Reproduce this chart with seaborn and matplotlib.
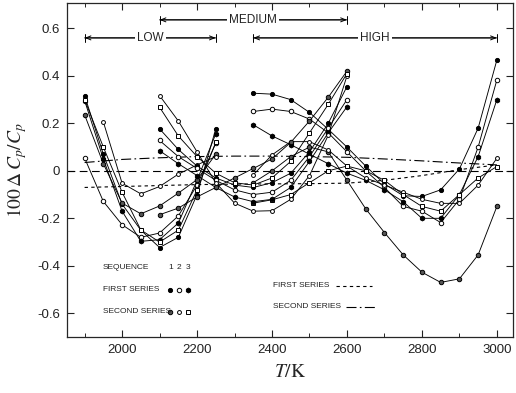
import numpy as np
import pandas as pd
import matplotlib
matplotlib.use("Agg")
import matplotlib.pyplot as plt
from matplotlib.ticker import MultipleLocator
import seaborn as sns

# Temperature grids of the three runs (K)
T_low = [1900, 1950, 2000, 2050, 2100, 2150, 2200, 2250]
T_med = [2100, 2150, 2200, 2250, 2300, 2350, 2400, 2450, 2500, 2550, 2600]
T_high = [2350, 2400, 2450, 2500, 2550, 2600, 2650, 2700, 2750, 2800,
          2850, 2900, 2950, 3000]

# LOW range deviations, 100*dCp/Cp
low_first_1 = [0.317, 0.07, -0.14, -0.25, -0.323, -0.28, -0.10, 0.177]
low_first_2 = [0.054, -0.129, -0.227, -0.28, -0.262, -0.19, -0.06, 0.117]
low_first_3 = [0.296, 0.05, -0.17, -0.297, -0.29, -0.22, -0.04, 0.156]
low_second_1 = [0.236, 0.03, -0.136, -0.181, -0.148, -0.094, -0.037, 0.07]
low_second_2 = [np.nan, 0.206, -0.052, -0.097, -0.066, -0.014, 0.025, 0.06]
low_second_3 = [0.30, 0.10, -0.09, -0.249, -0.30, -0.25, -0.08, 0.12]

# MEDIUM range deviations
med_first_1 = [0.177, 0.09, 0.02, -0.03, -0.06, -0.07, -0.05, -0.01, 0.08, 0.20, 0.355]
med_first_2 = [0.128, 0.06, 0.01, -0.04, -0.08, -0.10, -0.09, -0.04, 0.06, 0.18, 0.30]
med_first_3 = [0.085, 0.03, -0.02, -0.07, -0.11, -0.13, -0.12, -0.07, 0.04, 0.16, 0.27]
med_second_1 = [-0.185, -0.157, -0.11, -0.07, -0.03, 0.01, 0.05, 0.12, 0.21, 0.31, 0.42]
med_second_2 = [0.317, 0.21, 0.08, -0.05, -0.136, -0.17, -0.168, -0.12, -0.02, 0.15, 0.40]
med_second_3 = [0.268, 0.147, 0.06, -0.01, -0.05, -0.06, -0.03, 0.04, 0.16, 0.28, 0.41]

# HIGH range deviations
high_first_1 = [0.327, 0.323, 0.30, 0.246, 0.175, 0.10, 0.02, -0.055, -0.105,
                -0.108, -0.08, 0.008, 0.18, 0.467]
high_first_2 = [0.25, 0.26, 0.25, 0.218, 0.16, 0.08, 0.0, -0.07, -0.15,
                -0.17, -0.218, -0.12, 0.10, 0.383]
high_first_3 = [0.194, 0.147, 0.11, 0.07, 0.03, -0.01, -0.04, -0.08, -0.13,
                -0.20, -0.20, -0.10, 0.06, 0.30]
high_second_1 = [-0.05, 0.0, 0.06, 0.10, 0.08, -0.04, -0.16, -0.26, -0.354,
                 -0.427, -0.47, -0.455, -0.354, -0.15]
high_second_2 = [-0.017, 0.067, 0.123, 0.123, 0.088, 0.02, -0.03, -0.06, -0.09,
                 -0.12, -0.137, -0.137, -0.06, 0.053]
high_second_3 = [-0.136, -0.122, -0.10, -0.05, 0.0, 0.02, 0.0, -0.04, -0.10,
                 -0.15, -0.17, -0.10, -0.03, 0.018]

# Smoothed fits of the two series
T_fit = [1900, 2000, 2100, 2200, 2300, 2400, 2500, 2600, 2700, 2800, 2900, 3000]
fit_first = [-0.07, -0.066, -0.062, -0.058, -0.056, -0.055, -0.054, -0.052,
             -0.04, -0.02, 0.005, 0.025]
fit_second = [0.035, 0.048, 0.055, 0.06, 0.062, 0.062, 0.06, 0.057, 0.05,
              0.042, 0.033, 0.025]

# Range brackets (K)
ranges = {"LOW": (1900, 2250), "MEDIUM": (2100, 2600), "HIGH": (2350, 3000)}

curves = [
    ("low", "first", 1, T_low, low_first_1), ("low", "first", 2, T_low, low_first_2),
    ("low", "first", 3, T_low, low_first_3), ("low", "second", 1, T_low, low_second_1),
    ("low", "second", 2, T_low, low_second_2), ("low", "second", 3, T_low, low_second_3),
    ("medium", "first", 1, T_med, med_first_1), ("medium", "first", 2, T_med, med_first_2),
    ("medium", "first", 3, T_med, med_first_3), ("medium", "second", 1, T_med, med_second_1),
    ("medium", "second", 2, T_med, med_second_2), ("medium", "second", 3, T_med, med_second_3),
    ("high", "first", 1, T_high, high_first_1), ("high", "first", 2, T_high, high_first_2),
    ("high", "first", 3, T_high, high_first_3), ("high", "second", 1, T_high, high_second_1),
    ("high", "second", 2, T_high, high_second_2), ("high", "second", 3, T_high, high_second_3),
]
rows = []
for rng, ser, seq, T, vals in curves:
    for t, v in zip(T, vals):
        rows.append({"range": rng, "series": ser, "sequence": seq, "T": t, "dev": v})
df = pd.DataFrame(rows).dropna()

markers = {
    ("first", 1): dict(marker="o", markerfacecolor="black", markersize=3.0),
    ("first", 2): dict(marker="o", markerfacecolor="white", markersize=3.2),
    ("first", 3): dict(marker="h", markerfacecolor="black", markersize=3.5),
    ("second", 1): dict(marker="o", markerfacecolor="#555555", markersize=3.2),
    ("second", 2): dict(marker="o", markerfacecolor="white", markersize=2.8),
    ("second", 3): dict(marker="s", markerfacecolor="white", markersize=2.8),
}

sns.set_theme(style="ticks")
plt.rcParams.update({
    "font.family": ["Liberation Sans", "DejaVu Sans"],
    "mathtext.fontset": "stix",
    "xtick.direction": "in", "ytick.direction": "in",
    "xtick.top": True, "ytick.right": True,
    "axes.linewidth": 0.9,
    "xtick.major.size": 5, "ytick.major.size": 5,
    "xtick.minor.size": 3, "xtick.major.width": 0.8, "ytick.major.width": 0.8,
})

fig = plt.figure(figsize=(5.16, 3.93), dpi=100)
ax = fig.add_axes([67 / 516, 1 - 337 / 393, 446 / 516, 334 / 393])

# reference zero line and the two smoothed fits
ax.axhline(0, color="black", lw=0.8, ls=(0, (7, 4)), zorder=1)
sns.lineplot(x=T_fit, y=fit_first, ax=ax, color="black", lw=0.8,
             linestyle=(0, (3, 3)), zorder=1)
sns.lineplot(x=T_fit, y=fit_second, ax=ax, color="black", lw=0.8,
             linestyle=(0, (9, 3, 1.5, 3)), zorder=1)

for (rng, ser, seq), grp in df.groupby(["range", "series", "sequence"]):
    sns.lineplot(data=grp, x="T", y="dev", ax=ax, color="black", lw=0.65,
                 estimator=None, sort=False, markeredgecolor="black",
                 markeredgewidth=0.7, zorder=3, **markers[(ser, seq)])

ax.set_xlim(1853, 3043)
ax.set_ylim(-0.70, 0.707)
ax.xaxis.set_major_locator(MultipleLocator(200))
ax.xaxis.set_minor_locator(MultipleLocator(100))
ax.set_yticks([-0.6, -0.4, -0.2, 0, 0.2, 0.4, 0.6])
ax.set_yticklabels(["-0.6", "-0.4", "-0.2", "0", "0.2", "0.4", "0.6"])
ax.tick_params(which="minor", direction="in", top=True, length=3, width=0.7)
ax.tick_params(labelsize=9.5, colors="#222222", pad=5)

ax.set_xlabel(r"$T/\mathrm{K}$", fontsize=14, labelpad=6)
ax.set_ylabel(r"$100\,\Delta\,C_p/C_p$", fontsize=14, labelpad=6)

# range brackets along the top
for name, (t0, t1), yv in [("LOW", ranges["LOW"], 0.56),
                           ("MEDIUM", ranges["MEDIUM"], 0.636),
                           ("HIGH", ranges["HIGH"], 0.56)]:
    ax.annotate("", xy=(t0, yv), xytext=(t1, yv),
                arrowprops=dict(arrowstyle="|-|,widthA=0.25,widthB=0.25",
                                lw=0.7, color="black", shrinkA=0, shrinkB=0))
    ax.annotate("", xy=(t0, yv), xytext=(t1, yv),
                arrowprops=dict(arrowstyle="<->,head_length=0.3,head_width=0.12",
                                lw=0.7, color="black", shrinkA=0, shrinkB=0))
    ax.text((t0 + t1) / 2, yv, name, ha="center", va="center", fontsize=8.5,
            color="#222222", bbox=dict(facecolor="white", edgecolor="none", pad=1.5))

# key of sequences and series
key_font = dict(fontsize=6.0, color="#222222", va="center")
ax.text(0.081, 0.207, "SEQUENCE", transform=ax.transAxes, **key_font)
ax.text(0.081, 0.141, "FIRST SERIES", transform=ax.transAxes, **key_font)
ax.text(0.081, 0.075, "SECOND SERIES", transform=ax.transAxes, **key_font)
for i, xk in enumerate([0.232, 0.252, 0.272]):
    ax.text(xk, 0.207, str(i + 1), transform=ax.transAxes, ha="center", **key_font)
    for yk, ser in [(0.141, "first"), (0.075, "second")]:
        st = markers[(ser, i + 1)]
        ax.plot([xk], [yk], transform=ax.transAxes, color="black", ls="none",
                markeredgecolor="black", markeredgewidth=0.7, **st)

ax.text(0.462, 0.153, "FIRST SERIES", transform=ax.transAxes, **key_font)
ax.plot([0.603, 0.684], [0.153, 0.153], transform=ax.transAxes, color="black",
        lw=0.8, ls=(0, (3, 3)))
ax.text(0.462, 0.09, "SECOND SERIES", transform=ax.transAxes, **key_font)
ax.plot([0.626, 0.693], [0.09, 0.09], transform=ax.transAxes, color="black",
        lw=0.8, ls=(0, (9, 3, 1.5, 3)))

fig.savefig("out.png", dpi=100)
